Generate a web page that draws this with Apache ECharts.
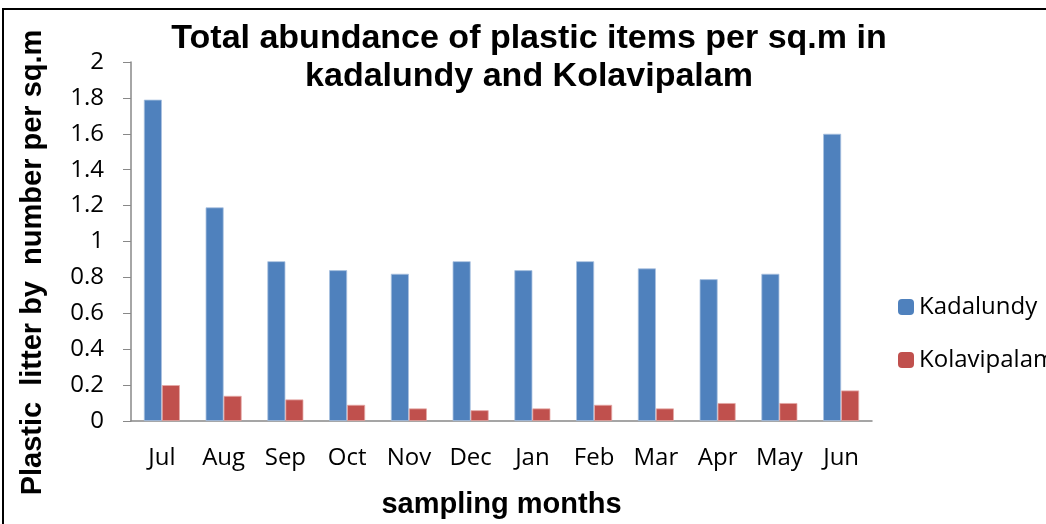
<!DOCTYPE html>
<html>
<head>
<meta charset="utf-8">
<script src="https://cdn.jsdelivr.net/npm/echarts@6/dist/echarts.min.js"></script>
<style>
  html, body { margin: 0; padding: 0; background: #fff; }
  #main { width: 1046px; height: 524px; }
</style>
</head>
<body>
<div id="main"></div>
<script>
// months on the x axis
var months = ['Jul', 'Aug', 'Sep', 'Oct', 'Nov', 'Dec', 'Jan', 'Feb', 'Mar', 'Apr', 'May', 'Jun']
// plastic items per sq.m
var kadalundy = [1.79, 1.19, 0.89, 0.84, 0.82, 0.89, 0.84, 0.89, 0.85, 0.79, 0.82, 1.6]
var kolavipalam = [0.2, 0.14, 0.12, 0.09, 0.07, 0.06, 0.07, 0.09, 0.07, 0.1, 0.1, 0.17]

var chart = echarts.init(document.getElementById('main'))
chart.setOption({
  animation: false,
  backgroundColor: '#fff',
  title: {
    text: 'Total abundance of plastic items per sq.m in\nkadalundy and Kolavipalam',
    left: 524,
    top: 15,
    textAlign: 'center',
    textStyle: {
      fontFamily: 'Liberation Sans',
      fontWeight: 'bold',
      fontSize: 34,
      lineHeight: 38,
      color: '#000'
    }
  },
  legend: {
    orient: 'vertical',
    left: 893,
    top: 290,
    itemWidth: 16,
    itemHeight: 16,
    itemGap: 29,
    itemStyle: { borderWidth: 0 },
    textStyle: { fontFamily: 'Open Sans', fontSize: 24, color: '#000' },
    data: ['Kadalundy', 'Kolavipalam']
  },
  grid: {
    left: 131,
    right: 174,
    top: 62,
    bottom: 103
  },
  xAxis: {
    type: 'category',
    data: months,
    name: 'sampling months',
    nameLocation: 'middle',
    nameGap: 69,
    nameTextStyle: {
      fontFamily: 'Liberation Sans',
      fontWeight: 'bold',
      fontSize: 29,
      color: '#000'
    },
    axisLine: { lineStyle: { color: '#888', width: 1.5 } },
    axisTick: { alignWithLabel: false, length: 10, lineStyle: { color: '#888' } },
    axisLabel: {
      fontFamily: 'Open Sans',
      fontSize: 24,
      color: '#000',
      margin: 25
    }
  },
  yAxis: {
    type: 'value',
    min: 0,
    max: 2,
    interval: 0.2,
    name: 'Plastic  litter by  number per sq.m',
    nameLocation: 'middle',
    nameGap: 84,
    nameTextStyle: {
      fontFamily: 'Liberation Sans',
      fontWeight: 'bold',
      fontSize: 29,
      color: '#000',
      padding: [0, 42, 0, 0]
    },
    splitLine: { show: false },
    axisLine: { show: true, lineStyle: { color: '#888', width: 1.5 } },
    axisTick: { show: true, length: 8, lineStyle: { color: '#888' } },
    axisLabel: {
      fontFamily: 'Open Sans',
      fontSize: 24,
      color: '#000',
      margin: 27,
      formatter: function (v) { return String(Math.round(v * 10) / 10) }
    }
  },
  graphic: [{
    type: 'rect',
    shape: { x: 3, y: 9, width: 1100, height: 600 },
    style: { fill: 'none', stroke: '#000', lineWidth: 2 },
    silent: true
  }],
  series: [
    {
      name: 'Kadalundy',
      type: 'bar',
      barWidth: 18,
      barGap: '0%',
      itemStyle: { color: '#4F81BD', borderColor: '#A9C1E0', borderWidth: 0.8 },
      data: kadalundy
    },
    {
      name: 'Kolavipalam',
      type: 'bar',
      barWidth: 18,
      barGap: '0%',
      itemStyle: { color: '#C0504D', borderColor: '#E4A8A6', borderWidth: 0.8 },
      data: kolavipalam
    }
  ]
})
</script>
</body>
</html>
